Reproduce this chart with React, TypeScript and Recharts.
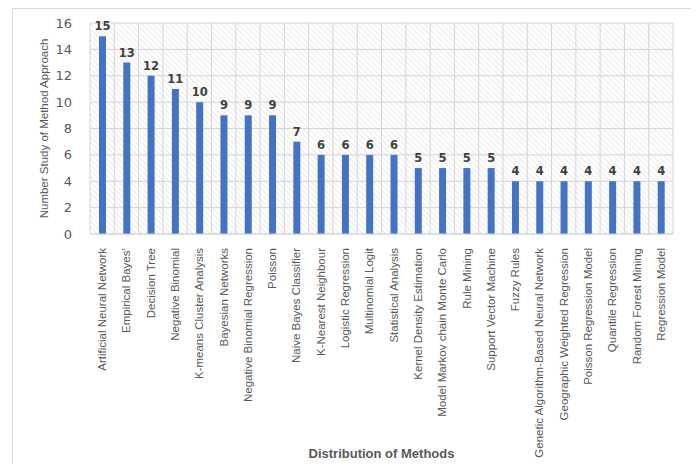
import React from "react";
import {
  BarChart,
  Bar,
  XAxis,
  YAxis,
  CartesianGrid,
  LabelList,
} from "recharts";

const methods = [
  "Artificial Neural Network",
  "Empirical Bayes’",
  "Decision Tree",
  "Negative Binomial",
  "K-means Cluster Analysis",
  "Bayesian Networks",
  "Negative Binomial Regression",
  "Poisson",
  "Naive Bayes Classifier",
  "K-Nearest Neighbour",
  "Logistic Regression",
  "Multinomial Logit",
  "Statistical Analysis",
  "Kernel Density Estimation",
  "Model Markov chain Monte Carlo",
  "Rule Mining",
  "Support Vector Machine",
  "Fuzzy Rules",
  "Genetic Algorithm-Based Neural Network",
  "Geographic Weighted Regression",
  "Poisson Regression Model",
  "Quantile Regression",
  "Random Forest Mining",
  "Regression Model",
];

const studies = [15, 13, 12, 11, 10, 9, 9, 9, 7, 6, 6, 6, 6, 5, 5, 5, 5, 4, 4, 4, 4, 4, 4, 4];

const yTicks = [0, 2, 4, 6, 8, 10, 12, 14, 16];

const data = methods.map((name, i) => ({ name, value: studies[i] }));

const sans = "'Liberation Sans', Arial, sans-serif";

const MethodTick = (props: any) => {
  const { x, y, payload } = props;
  return (
    <text
      x={x}
      y={y + 6}
      transform={`rotate(-90, ${x}, ${y + 6})`}
      textAnchor="end"
      dominantBaseline="central"
      fill="#595959"
      fontSize={11.5}
      fontFamily={sans}
    >
      {payload.value}
    </text>
  );
};

export default function App() {
  return (
    <div
      style={{
        marginLeft: 4,
        width: 680,
        height: 470,
        border: "1px solid #d9d9d9",
        boxSizing: "border-box",
        background: "#fff",
      }}
    >
      <BarChart
        width={678}
        height={455}
        data={data}
        margin={{ top: 14, right: 18, left: 0, bottom: 0 }}
        barCategoryGap={0}
      >
        <defs>
          <pattern
            id="hatch"
            width="4"
            height="4"
            patternUnits="userSpaceOnUse"
            patternTransform="rotate(-45)"
          >
            <rect width="4" height="4" fill="#ffffff" />
            <line x1="0" y1="0" x2="0" y2="4" stroke="#d9d9d9" strokeWidth="1.1" />
          </pattern>
        </defs>
        <CartesianGrid
          fill="url(#hatch)"
          stroke="#d4d4d4"
          strokeWidth={1}
          verticalCoordinatesGenerator={({ offset }: any) =>
            methods
              .map((_, i) => offset.left + (offset.width * i) / methods.length)
              .concat(offset.left + offset.width)
          }
        />
        <XAxis
          dataKey="name"
          interval={0}
          height={230}
          tick={<MethodTick />}
          tickLine={false}
          axisLine={{ stroke: "#d4d4d4" }}
          label={{
            value: "Distribution of Methods",
            position: "insideBottom",
            offset: 6,
            fill: "#595959",
            fontSize: 13,
            fontWeight: "bold",
            fontFamily: sans,
          }}
        />
        <YAxis
          width={77}
          domain={[0, 16]}
          ticks={yTicks}
          tickLine={false}
          axisLine={false}
          tickMargin={12}
          tick={{ fill: "#595959", fontSize: 13, fontFamily: "'DejaVu Sans', sans-serif" }}
          label={{
            value: "Number Study of Method Approach",
            angle: -90,
            position: "insideLeft",
            offset: 31,
            style: { textAnchor: "middle" },
            fill: "#595959",
            fontSize: 11.5,
            fontFamily: sans,
          }}
        />
        <Bar dataKey="value" fill="#4472c4" barSize={7} isAnimationActive={false}>
          <LabelList
            dataKey="value"
            position="top"
            offset={6}
            fill="#404040"
            fontSize={11.5}
            fontWeight="bold"
            fontFamily="'DejaVu Sans', sans-serif"
          />
        </Bar>
      </BarChart>
    </div>
  );
}
